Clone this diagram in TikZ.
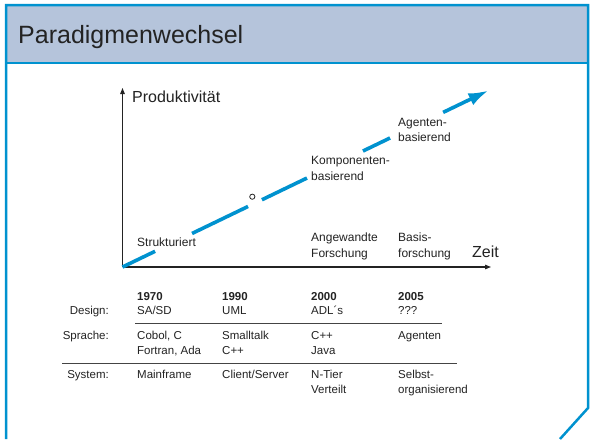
\documentclass[tikz,border=0pt]{standalone}
\usepackage{fontspec}
\setmainfont{Liberation Sans}
\usetikzlibrary{arrows.meta,calc}
\definecolor{frameblue}{RGB}{0,146,207}
\definecolor{headfill}{RGB}{181,196,219}
\definecolor{txt}{RGB}{35,35,35}
\begin{document}
\begin{tikzpicture}[x=1pt,y=-1pt,
  lbl/.style={anchor=base west,inner sep=0pt,font=\fontsize{12}{14}\selectfont,text=txt},
  tbl/.style={anchor=base west,inner sep=0pt,font=\fontsize{11.5}{14}\selectfont,text=txt},
  yr/.style={tbl,font=\fontsize{11.5}{14}\selectfont\bfseries},
  rowhead/.style={tbl,anchor=base east},
  big/.style={anchor=base west,inner sep=0pt,font=\fontsize{16}{18}\selectfont,text=txt},
  axis/.style={line width=1.1pt,draw=txt,-{Triangle[length=6pt,width=4.5pt]}},
  trend/.style={line width=3.6pt,draw=frameblue},
  rule/.style={line width=1.1pt,draw=txt!85},
  frame/.style={frameblue,line width=2.5pt}]
\useasboundingbox (0,0) rectangle (591,439);
\fill[white] (0,0) rectangle (591,439);
% header and frame
\fill[headfill] (6,5) rectangle (588,63);
\draw[frame] (6,439) -- (6,5) -- (588,5) -- (588,408) -- (560,439);
\draw[frame] (6,63) -- (588,63);
\node[anchor=base west,inner sep=0pt,font=\fontsize{25}{30}\selectfont,text=txt] (title) at (18,43) {Paradigmenwechsel};
% axes
\coordinate (O) at (122.5,267);
\coordinate (Ytop) at (122.5,88);
\coordinate (Xend) at (491,267);
\draw[axis] (O) -- (Ytop);
\draw[axis] (O) -- (Xend);
\node[big] (prod) at (132,102) {Produktivität};
\node[big] (zeit) at (472,257) {Zeit};
% trend arrow
\coordinate (T) at (488.5,90.5);
\draw[trend] (O) -- ($(O)!0.089!(T)$);
\draw[trend] ($(O)!0.19!(T)$) -- ($(O)!0.343!(T)$);
\draw[trend] ($(O)!0.381!(T)$) -- ($(O)!0.504!(T)$);
\draw[trend] ($(O)!0.657!(T)$) -- ($(O)!0.731!(T)$);
\draw[trend,-{Latex[length=20pt,width=13pt]}] ($(O)!0.876!(T)$) -- (T);
\draw[txt,line width=0.8pt] (252.3,196.7) circle (2.6pt);
% chart labels
\node[lbl] (strukt) at (137,246) {Strukturiert};
\node[lbl] (komp1) at (311,164) {Komponenten-};
\node[lbl] (komp2) at (311,180) {basierend};
\node[lbl] (agent1) at (398,126) {Agenten-};
\node[lbl] (agent2) at (398,141) {basierend};
\node[lbl] (angew1) at (311,241) {Angewandte};
\node[lbl] (angew2) at (311,257) {Forschung};
\node[lbl] (basis1) at (398,241) {Basis-};
\node[lbl] (basis2) at (398,257) {forschung};
% table
\node[yr] (y1970) at (137,300) {1970};
\node[yr] (y1990) at (222,300) {1990};
\node[yr] (y2000) at (311,300) {2000};
\node[yr] (y2005) at (398,300) {2005};
\node[rowhead] (design) at (109,314) {Design:};
\node[tbl] (d1) at (137,314) {SA/SD};
\node[tbl] (d2) at (222,314) {UML};
\node[tbl] (d3) at (311,314) {ADL´s};
\node[tbl] (d4) at (398,314) {???};
\draw[rule] (135,323.5) -- (442,323.5);
\node[rowhead] (sprache) at (109,339) {Sprache:};
\node[tbl] (s1) at (137,339) {Cobol, C};
\node[tbl] (s1b) at (137,354) {Fortran, Ada};
\node[tbl] (s2) at (222,339) {Smalltalk};
\node[tbl] (s2b) at (222,354) {C++};
\node[tbl] (s3) at (311,339) {C++};
\node[tbl] (s3b) at (311,354) {Java};
\node[tbl] (s4) at (398,339) {Agenten};
\draw[rule] (62,363.5) -- (457,363.5);
\node[rowhead] (system) at (109,378) {System:};
\node[tbl] (m1) at (137,378) {Mainframe};
\node[tbl] (m2) at (222,378) {Client/Server};
\node[tbl] (m3) at (311,378) {N-Tier};
\node[tbl] (m3b) at (311,393) {Verteilt};
\node[tbl] (m4) at (398,378) {Selbst-};
\node[tbl] (m4b) at (398,393) {organisierend};
\end{tikzpicture}
\end{document}
